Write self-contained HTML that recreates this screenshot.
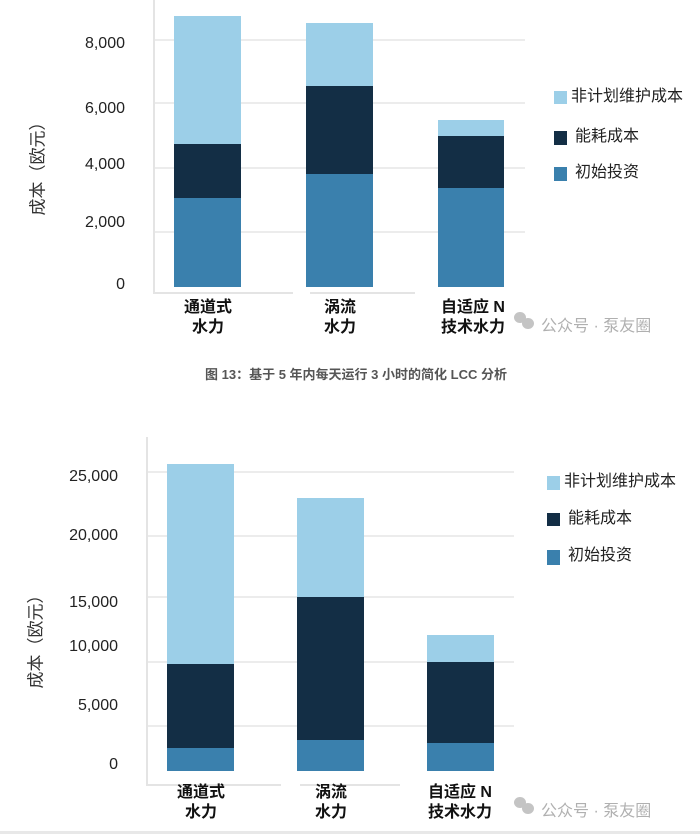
<!DOCTYPE html>
<html><head><meta charset="utf-8"><style>
body{margin:0;width:700px;height:834px;background:#fff;position:relative;overflow:hidden;font-family:"Liberation Sans","Noto Sans CJK SC",sans-serif;}
div{position:absolute;}
.g{height:2px;background:#ececec;}
.ax{background:#e4e4e4;}
.t{font-size:16px;color:#222;text-align:right;width:80px;line-height:16px;}
.l{background:#9ccfe8}.d{background:#132e45}.m{background:#3a80ad}
.lg{font-size:16px;color:#222;line-height:16px;white-space:nowrap;}
.c{font-size:16px;font-weight:bold;color:#111;text-align:center;width:120px;line-height:20px;}
.yt{font-size:17px;color:#333;transform:rotate(-90deg);white-space:nowrap;width:120px;text-align:center;}
.wm{font-size:16px;color:#b0b0b0;white-space:nowrap;}
.ic{width:12px;height:11px;border-radius:50%;background:#c4c4c4;}
</style></head><body>
<!-- chart 1 -->
<div class="ax" style="left:153px;top:0;width:2px;height:293px"></div>
<div class="ax" style="left:153px;top:292px;width:140px;height:2px"></div>
<div class="ax" style="left:310px;top:292px;width:105px;height:2px"></div>
<div class="g" style="left:155px;top:39px;width:370px"></div>
<div class="g" style="left:155px;top:102px;width:370px"></div>
<div class="g" style="left:155px;top:167px;width:370px"></div>
<div class="g" style="left:155px;top:231px;width:370px"></div>
<div class="t" style="left:45px;top:36px">8,000</div>
<div class="t" style="left:45px;top:101px">6,000</div>
<div class="t" style="left:45px;top:157px">4,000</div>
<div class="t" style="left:45px;top:215px">2,000</div>
<div class="t" style="left:45px;top:277px">0</div>
<div class="yt" style="left:-24px;top:152px">成本（欧元）</div>
<div class="l" style="left:174px;top:16px;width:67px;height:128px"></div>
<div class="d" style="left:174px;top:144px;width:67px;height:54px"></div>
<div class="m" style="left:174px;top:198px;width:67px;height:89px"></div>
<div class="l" style="left:306px;top:23px;width:67px;height:63px"></div>
<div class="d" style="left:306px;top:86px;width:67px;height:88px"></div>
<div class="m" style="left:306px;top:174px;width:67px;height:113px"></div>
<div class="l" style="left:438px;top:120px;width:66px;height:16px"></div>
<div class="d" style="left:438px;top:136px;width:66px;height:52px"></div>
<div class="m" style="left:438px;top:188px;width:66px;height:99px"></div>
<div class="l" style="left:554px;top:91px;width:13px;height:13px"></div>
<div class="d" style="left:554px;top:131px;width:13px;height:14px"></div>
<div class="m" style="left:554px;top:167px;width:13px;height:14px"></div>
<div class="lg" style="left:571px;top:89px">非计划维护成本</div>
<div class="lg" style="left:575px;top:129px">能耗成本</div>
<div class="lg" style="left:575px;top:165px">初始投资</div>
<div class="c" style="left:148px;top:298px">通道式<br>水力</div>
<div class="c" style="left:280px;top:298px">涡流<br>水力</div>
<div class="c" style="left:413px;top:298px">自适应 N<br>技术水力</div>
<div class="ic" style="left:514px;top:312px"></div><div class="ic" style="left:522px;top:318px"></div>
<div class="wm" style="left:541px;top:312px">公众号 · 泵友圈</div>
<div style="left:150px;top:364px;width:412px;text-align:center;font-size:13px;font-weight:bold;color:#555;white-space:nowrap">图 13：基于 5 年内每天运行 3 小时的简化 LCC 分析</div>
<!-- chart 2 -->
<div class="ax" style="left:146px;top:437px;width:2px;height:348px"></div>
<div class="ax" style="left:146px;top:784px;width:135px;height:2px"></div>
<div class="ax" style="left:300px;top:784px;width:100px;height:2px"></div>
<div class="g" style="left:148px;top:471px;width:366px"></div>
<div class="g" style="left:148px;top:535px;width:366px"></div>
<div class="g" style="left:148px;top:596px;width:366px"></div>
<div class="g" style="left:148px;top:661px;width:366px"></div>
<div class="g" style="left:148px;top:725px;width:366px"></div>
<div class="t" style="left:38px;top:469px">25,000</div>
<div class="t" style="left:38px;top:528px">20,000</div>
<div class="t" style="left:38px;top:595px">15,000</div>
<div class="t" style="left:38px;top:639px">10,000</div>
<div class="t" style="left:38px;top:698px">5,000</div>
<div class="t" style="left:38px;top:757px">0</div>
<div class="yt" style="left:-26px;top:625px">成本（欧元）</div>
<div class="l" style="left:167px;top:464px;width:67px;height:200px"></div>
<div class="d" style="left:167px;top:664px;width:67px;height:84px"></div>
<div class="m" style="left:167px;top:748px;width:67px;height:23px"></div>
<div class="l" style="left:297px;top:498px;width:67px;height:99px"></div>
<div class="d" style="left:297px;top:597px;width:67px;height:143px"></div>
<div class="m" style="left:297px;top:740px;width:67px;height:31px"></div>
<div class="l" style="left:427px;top:635px;width:67px;height:27px"></div>
<div class="d" style="left:427px;top:662px;width:67px;height:81px"></div>
<div class="m" style="left:427px;top:743px;width:67px;height:28px"></div>
<div class="l" style="left:547px;top:476px;width:13px;height:14px"></div>
<div class="d" style="left:547px;top:513px;width:13px;height:13px"></div>
<div class="m" style="left:547px;top:550px;width:13px;height:15px"></div>
<div class="lg" style="left:564px;top:474px">非计划维护成本</div>
<div class="lg" style="left:568px;top:511px">能耗成本</div>
<div class="lg" style="left:568px;top:548px">初始投资</div>
<div class="c" style="left:141px;top:783px">通道式<br>水力</div>
<div class="c" style="left:271px;top:783px">涡流<br>水力</div>
<div class="c" style="left:400px;top:783px">自适应 N<br>技术水力</div>
<div class="ic" style="left:514px;top:797px"></div><div class="ic" style="left:522px;top:803px"></div>
<div class="wm" style="left:541px;top:797px">公众号 · 泵友圈</div>
<div style="left:0;top:831px;width:700px;height:3px;background:#e8e8e8"></div>
</body></html>
